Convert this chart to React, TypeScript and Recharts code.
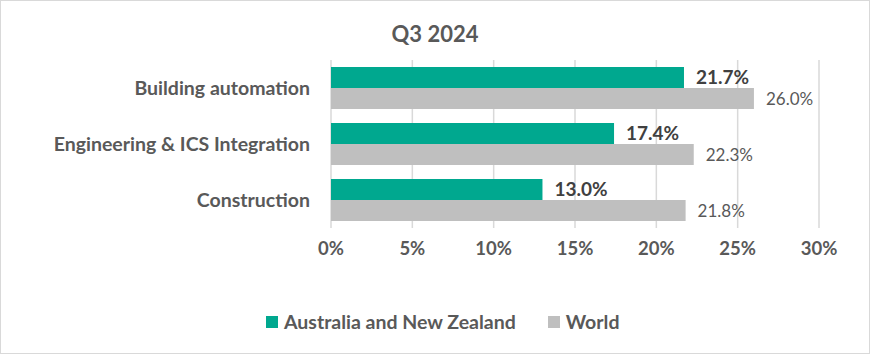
import { Bar, BarChart, CartesianGrid, LabelList, XAxis, YAxis } from 'recharts'

const categories = ['Building automation', 'Engineering & ICS Integration', 'Construction']
const anzValues = [21.7, 17.4, 13.0]
const worldValues = [26.0, 22.3, 21.8]
const xTicks = [0, 5, 10, 15, 20, 25, 30]

const data = categories.map((name, i) => ({ name, anz: anzValues[i], world: worldValues[i] }))

const FONT = 'Lato, "Open Sans", sans-serif'
const TEXT = '#595959'
const GREEN = '#00A88F'
const GREY = '#BFBFBF'

const pct = (v: unknown) => `${Number(v).toFixed(1)}%`

function LegendItem({ color, label }: { color: string; label: string }) {
  return (
    <span style={{ display: 'inline-flex', alignItems: 'center', gap: 6 }}>
      <span style={{ width: 12, height: 12, background: color, display: 'inline-block' }} />
      <span>{label}</span>
    </span>
  )
}

export default function App() {
  return (
    <div
      style={{
        position: 'absolute',
        left: 0,
        top: 0,
        width: 870,
        height: 354,
        boxSizing: 'border-box',
        border: '1px solid #D9D9D9',
        background: '#fff',
        fontFamily: FONT,
      }}
    >
      <div
        style={{
          position: 'absolute',
          left: -1,
          top: 20,
          width: 870,
          textAlign: 'center',
          fontSize: 22,
          fontWeight: 700,
          color: TEXT,
          lineHeight: '26px',
        }}
      >
        Q3 2024
      </div>
      <div style={{ position: 'absolute', left: -1, top: -1 }}>
        <BarChart
          width={870}
          height={354}
          data={data}
          layout="vertical"
          margin={{ top: 60, right: 51, bottom: 96, left: 0 }}
          barCategoryGap={7}
          barGap={0}
        >
          <CartesianGrid horizontal={false} stroke="#D9D9D9" strokeWidth={1.5} />
          <XAxis
            type="number"
            domain={[0, 30]}
            ticks={xTicks}
            tickFormatter={(v) => `${v}%`}
            axisLine={false}
            tickLine={false}
            tickSize={0}
            tickMargin={14}
            height={30}
            tick={{ fill: TEXT, fontSize: 18.5, fontWeight: 700, fontFamily: FONT }}
          />
          <YAxis
            type="category"
            dataKey="name"
            width={331}
            axisLine={false}
            tickLine={false}
            tickSize={0}
            tickMargin={21}
            tick={{ fill: TEXT, fontSize: 19.5, fontWeight: 700, fontFamily: FONT }}
          />
          <Bar dataKey="anz" fill={GREEN} isAnimationActive={false}>
            <LabelList
              dataKey="anz"
              position="right"
              offset={12}
              formatter={pct}
              fill="#404040"
              fontSize={19}
              fontWeight={700}
              fontFamily={FONT}
            />
          </Bar>
          <Bar dataKey="world" fill={GREY} isAnimationActive={false}>
            <LabelList
              dataKey="world"
              position="right"
              offset={12}
              formatter={pct}
              fill={TEXT}
              fontSize={17}
              fontFamily={FONT}
            />
          </Bar>
        </BarChart>
      </div>
      <div
        style={{
          position: 'absolute',
          left: 265,
          top: 310,
          display: 'flex',
          gap: 32,
          fontSize: 19.5,
          fontWeight: 700,
          color: TEXT,
          lineHeight: '22px',
        }}
      >
        <LegendItem color={GREEN} label="Australia and New Zealand" />
        <LegendItem color={GREY} label="World" />
      </div>
    </div>
  )
}
